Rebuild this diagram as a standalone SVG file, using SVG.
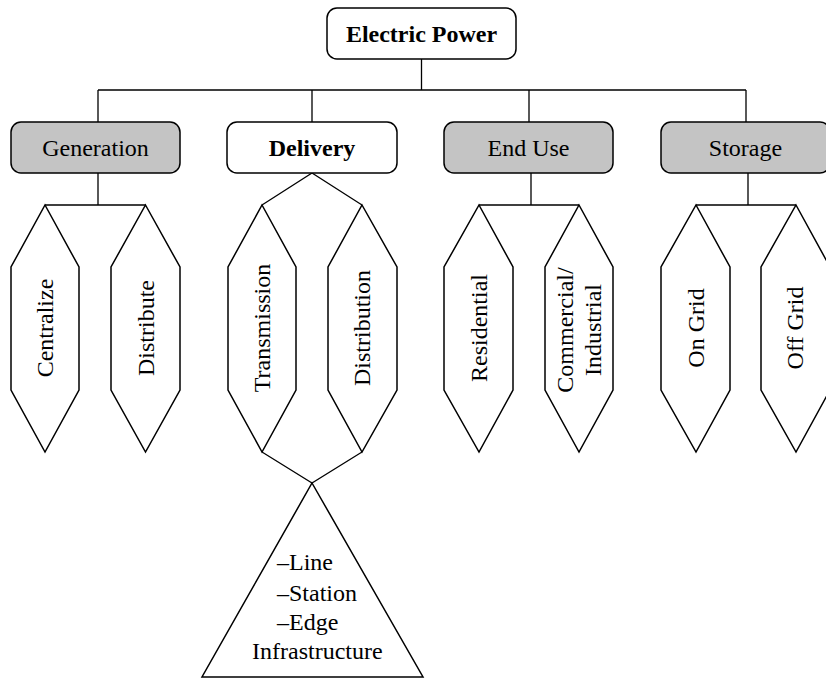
<svg xmlns="http://www.w3.org/2000/svg" width="826" height="679" viewBox="0 0 826 679">
<style>
  .box { stroke: #000; stroke-width: 1.5; }
  .white { fill: #fff; }
  .gray { fill: #c4c4c4; }
  .hex { fill: #fff; stroke: #000; stroke-width: 1.5; stroke-linejoin: miter; }
  .conn { fill: none; stroke: #000; stroke-width: 1.3; }
  text { font-family: "Liberation Serif", "Times New Roman", serif; font-size: 24px; fill: #000; }
  .b { font-weight: bold; }
  .c { text-anchor: middle; }
</style>
<rect width="826" height="679" fill="#fff"/>
<g id="connectors">
  <path class="conn" d="M421.5,59 V90 M98,90 H746 M98,90 V122 M312,90 V122 M529,90 V122 M746,90 V122"/>
  <path class="conn" d="M98,173 V205 M45,205 H145.5"/>
  <path class="conn" d="M531,173 V205 M479,205 H579"/>
  <path class="conn" d="M748,173 V205 M696,205 H796"/>
  <path class="conn" d="M262,205 L312,173 L362,205"/>
  <path class="conn" d="M262,452 L312,483 L362,452"/>
</g>
<g id="electric-power">
  <rect class="box white" x="327" y="8" width="189" height="51" rx="10"/>
  <text class="b c" x="421.5" y="42">Electric Power</text>
</g>
<g id="generation">
  <rect class="box gray" x="11" y="122" width="169" height="51" rx="10"/>
  <text class="c" x="95.5" y="155.5">Generation</text>
</g>
<g id="delivery">
  <rect class="box white" x="227" y="122" width="170" height="51" rx="10"/>
  <text class="b c" x="312" y="155.5">Delivery</text>
</g>
<g id="end-use">
  <rect class="box gray" x="444" y="122" width="169" height="51" rx="10"/>
  <text class="c" x="528.5" y="155.5">End Use</text>
</g>
<g id="storage">
  <rect class="box gray" x="661" y="122" width="169" height="51" rx="10"/>
  <text class="c" x="745.5" y="155.5">Storage</text>
</g>
<g id="centralize">
  <polygon class="hex" points="45,205 79,267 79,390 45,452 11,390 11,267"/>
  <text class="c" transform="translate(45,328) rotate(-90)" x="0" y="8">Centralize</text>
</g>
<g id="distribute">
  <polygon class="hex" points="145.5,205 180,267 180,390 145.5,452 111,390 111,267"/>
  <text class="c" transform="translate(145.5,328) rotate(-90)" x="0" y="8">Distribute</text>
</g>
<g id="transmission">
  <polygon class="hex" points="262,205 296,267 296,390 262,452 228,390 228,267"/>
  <text class="c" transform="translate(262,328) rotate(-90)" x="0" y="8">Transmission</text>
</g>
<g id="distribution">
  <polygon class="hex" points="362,205 397,267 397,390 362,452 328,390 328,267"/>
  <text class="c" transform="translate(362,328) rotate(-90)" x="0" y="8">Distribution</text>
</g>
<g id="residential">
  <polygon class="hex" points="479,205 513,267 513,390 479,452 444,390 444,267"/>
  <text class="c" transform="translate(479,328) rotate(-90)" x="0" y="8">Residential</text>
</g>
<g id="commercial-industrial">
  <polygon class="hex" points="579,205 613,267 613,390 579,452 545,390 545,267"/>
  <text class="c" transform="translate(579,330) rotate(-90)" x="0" y="-6">Commercial/</text>
  <text class="c" transform="translate(579,330) rotate(-90)" x="0" y="22">Industrial</text>
</g>
<g id="on-grid">
  <polygon class="hex" points="696,205 730,267 730,390 696,452 661,390 661,267"/>
  <text class="c" transform="translate(696,328) rotate(-90)" x="0" y="8">On Grid</text>
</g>
<g id="off-grid">
  <polygon class="hex" points="796,205 830,267 830,390 796,452 761,390 761,267"/>
  <text class="c" transform="translate(795,328) rotate(-90)" x="0" y="8">Off Grid</text>
</g>
<g id="infrastructure">
  <polygon class="hex" points="312,483 423,677 202,677"/>
  <text x="277" y="570">–Line</text>
  <text x="277" y="600.5">–Station</text>
  <text x="277" y="629.5">–Edge</text>
  <text x="252" y="658.5">Infrastructure</text>
</g>
</svg>
